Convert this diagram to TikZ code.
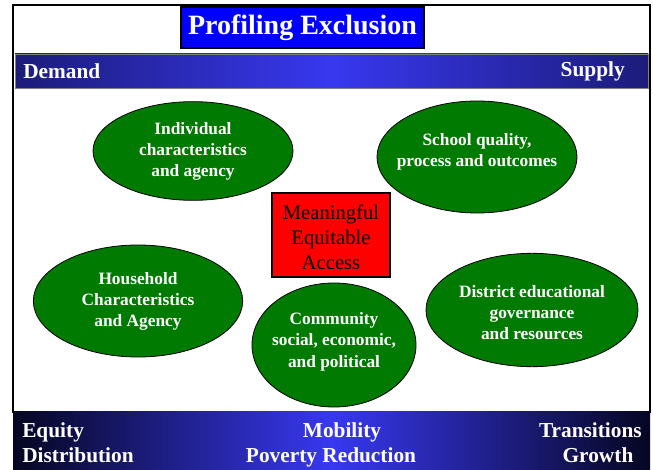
\documentclass[tikz,border=0pt]{standalone}
\usepackage{fontspec}
\setmainfont{Liberation Serif}
\usetikzlibrary{shapes.geometric}
\definecolor{ovalgreen}{RGB}{0,122,0}
\definecolor{bandend}{RGB}{28,28,122}
\definecolor{bandmid}{RGB}{56,56,240}
\definecolor{bandendd}{RGB}{6,6,34}
\definecolor{titleblue}{RGB}{0,0,255}
\tikzset{
  oval/.style={ellipse, draw=black, line width=0.6pt, fill=ovalgreen, text=white,
    font=\bfseries\fontsize{13}{16}\selectfont, align=center, inner sep=0pt},
  ovaltext/.style={text=white, font=\bfseries\fontsize{13}{16}\selectfont, align=center},
  bandtext/.style={text=white, font=\bfseries\fontsize{16}{19}\selectfont, inner sep=0pt},
}
\begin{document}
\begin{tikzpicture}[x=0.75pt,y=-0.75pt]
\useasboundingbox (0,0) rectangle (653,470);
\fill[white] (0,0) rectangle (653,470);
% outer frame
\draw[line width=1.2pt] (13,5) rectangle (650,412);
% title
\node[draw=black, line width=0.8pt, fill=titleblue, minimum width=182.25pt, minimum height=30.75pt, inner sep=0pt,
  text=white, font=\bfseries\fontsize{21}{24}\selectfont] (title) at (302.5,27.5) {Profiling Exclusion};
% top band
\shade[left color=bandend, right color=bandend, middle color=bandmid] (15,54) rectangle (648,88);
\draw[gray, line width=0.5pt] (15,54) rectangle (648,88);
\node[bandtext, anchor=west] (demand) at (23,71) {Demand};
\node[bandtext, anchor=east] (supply) at (625,71) {Supply};
% bottom band
\shade[left color=bandendd, right color=bandendd, middle color=bandmid] (13,411) rectangle (650,470);
\node[bandtext, anchor=base west] (equity) at (22,437) {Equity};
\node[bandtext, anchor=base west] (distr) at (22,462) {Distribution};
\node[bandtext, anchor=base] (mob) at (342,437) {Mobility};
\node[bandtext, anchor=base] (pov) at (331,462) {Poverty Reduction};
\node[bandtext, anchor=base east] (trans) at (642,437) {Transitions};
\node[bandtext, anchor=base] (growth) at (598,462) {Growth};
% ovals
\node[oval, minimum width=150pt, minimum height=74pt] (indiv) at (193,151) {};
\node[ovaltext] (indivt) at (193,151.5) {Individual\\characteristics\\and agency};
\node[oval, minimum width=150pt, minimum height=84pt] (school) at (477,157) {};
\node[ovaltext] (schoolt) at (477,151.5) {School quality,\\process and outcomes};
\node[oval, minimum width=157pt, minimum height=84pt] (house) at (138,301) {};
\node[ovaltext] (houset) at (138,301.5) {Household\\Characteristics\\and Agency};
\node[oval, minimum width=123pt, minimum height=93pt] (comm) at (334,345) {};
\node[ovaltext] (commt) at (334,341.5) {Community\\social, economic,\\and political};
\node[oval, minimum width=159pt, minimum height=85pt] (dist) at (532,310) {};
\node[ovaltext] (distt) at (532,312.5) {District educational\\governance\\and resources};
% red box
\node[draw=black, line width=1.5pt, fill=red, minimum width=88.5pt, minimum height=63pt, inner sep=0pt] (mea) at (331,235) {};
\node[align=center, font=\fontsize{15.5}{18.75}\selectfont] (meat) at (331,237) {Meaningful\\Equitable\\Access};
\end{tikzpicture}
\end{document}
